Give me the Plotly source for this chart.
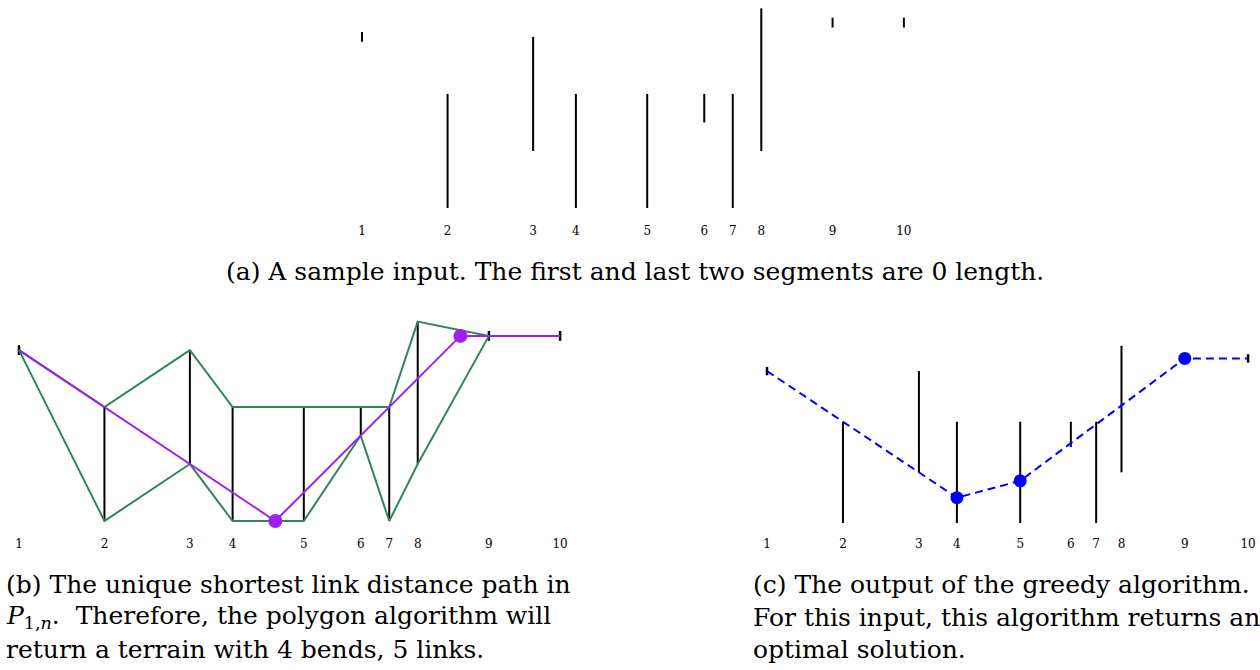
import plotly.graph_objects as go

# ---------------- data ----------------
labels = ["1", "2", "3", "4", "5", "6", "7", "8", "9", "10"]
positions = [0, 6, 12, 15, 20, 24, 26, 28, 33, 38]
seg_low = [12, 0, 4, 0, 0, 6, 0, 4, 13, 13]
seg_high = [12, 8, 12, 8, 8, 8, 8, 14, 13, 13]

path_x = [0, 18, 31, 38]          # shortest link-distance path (b)
path_y = [12, 0, 13, 13]
path_bend_x = [18, 31]
path_bend_y = [0, 13]

greedy_x = [0, 15, 20, 33, 38]    # greedy output (c)
greedy_y = [12, 2, 3.33, 13, 13]
greedy_bend_x = [15, 20, 33]
greedy_bend_y = [2, 3.33, 13]

W, H = 1260, 670
SERIF = "DejaVu Serif, Liberation Serif, serif"
GREEN = "#2e8657"
PURPLE = "#a020f0"
BLUE = "#0000ff"


def px(x):
    return x / W


def py(y):
    return 1 - y / H


def seg_xy(xs, lo, hi):
    X, Y = [], []
    for x, a, b in zip(xs, lo, hi):
        if a != b:
            X += [x, x, None]
            Y += [a, b, None]
    return X, Y


def zero_xy(xs, lo, hi):
    return ([x for x, a, b in zip(xs, lo, hi) if a == b],
            [a for x, a, b in zip(xs, lo, hi) if a == b])


fig = go.Figure()

sx, sy = seg_xy(positions, seg_low, seg_high)
zx, zy = zero_xy(positions, seg_low, seg_high)

# ---------- panel (a) ----------
fig.add_trace(go.Scatter(x=sx, y=sy, mode="lines", line=dict(color="black", width=2),
                         xaxis="x", yaxis="y", hoverinfo="skip"))
fig.add_trace(go.Scatter(x=zx, y=zy, mode="markers",
                         marker=dict(symbol="line-ns", size=7, line=dict(color="black", width=2)),
                         xaxis="x", yaxis="y", hoverinfo="skip"))

# ---------- panel (b) ----------
fig.add_trace(go.Scatter(x=sx, y=sy, mode="lines", line=dict(color="black", width=2),
                         xaxis="x2", yaxis="y2", hoverinfo="skip"))
fig.add_trace(go.Scatter(x=zx, y=zy, mode="markers",
                         marker=dict(symbol="line-ns", size=7, line=dict(color="black", width=2.5)),
                         xaxis="x2", yaxis="y2", hoverinfo="skip"))
fig.add_trace(go.Scatter(x=positions, y=seg_high, mode="lines", line=dict(color=GREEN, width=2),
                         xaxis="x2", yaxis="y2", hoverinfo="skip"))
fig.add_trace(go.Scatter(x=positions, y=seg_low, mode="lines", line=dict(color=GREEN, width=2),
                         xaxis="x2", yaxis="y2", hoverinfo="skip"))
fig.add_trace(go.Scatter(x=path_x, y=path_y, mode="lines", line=dict(color=PURPLE, width=2),
                         xaxis="x2", yaxis="y2", hoverinfo="skip"))
fig.add_trace(go.Scatter(x=path_bend_x, y=path_bend_y, mode="markers",
                         marker=dict(color=PURPLE, size=14),
                         xaxis="x2", yaxis="y2", hoverinfo="skip"))

# ---------- panel (c) ----------
fig.add_trace(go.Scatter(x=sx, y=sy, mode="lines", line=dict(color="black", width=2),
                         xaxis="x3", yaxis="y3", hoverinfo="skip"))
fig.add_trace(go.Scatter(x=zx, y=zy, mode="markers",
                         marker=dict(symbol="line-ns", size=6, line=dict(color="black", width=2.5)),
                         xaxis="x3", yaxis="y3", hoverinfo="skip"))
fig.add_trace(go.Scatter(x=greedy_x, y=greedy_y, mode="lines",
                         line=dict(color=BLUE, width=2, dash="8px,5px"),
                         xaxis="x3", yaxis="y3", hoverinfo="skip"))
fig.add_trace(go.Scatter(x=greedy_bend_x, y=greedy_bend_y, mode="markers",
                         marker=dict(color=BLUE, size=13),
                         xaxis="x3", yaxis="y3", hoverinfo="skip"))


def xax(domain_px, origin, scale):
    lo, hi = domain_px
    return dict(domain=[px(lo), px(hi)],
                range=[(lo - origin) / scale, (hi - origin) / scale],
                tickvals=positions, ticktext=labels, ticks="",
                tickfont=dict(family=SERIF, size=12, color="black"),
                showgrid=False, zeroline=False, showline=False, fixedrange=True)


def yax(domain_px, origin, scale):
    top, bottom = domain_px
    return dict(domain=[py(bottom), py(top)],
                range=[(origin - bottom) / scale, (origin - top) / scale],
                showticklabels=False, ticks="",
                showgrid=False, zeroline=False, showline=False, fixedrange=True)


layout = dict(
    width=W, height=H, margin=dict(l=0, r=0, t=0, b=0),
    paper_bgcolor="white", plot_bgcolor="white", showlegend=False,
    xaxis=xax((340, 930), 362, 14.26), yaxis=yax((0, 222), 208, 14.26),
    xaxis2=dict(xax((0, 580), 19, 14.24), anchor="y2"),
    yaxis2=dict(yax((300, 535), 521, 14.24), anchor="x2"),
    xaxis3=dict(xax((745, 1260), 767, 12.66), anchor="y3"),
    yaxis3=dict(yax((320, 535), 523, 12.66), anchor="x3"),
)
layout["xaxis"]["anchor"] = "y"
layout["yaxis"]["anchor"] = "x"
fig.update_layout(**layout)

CAP = dict(family=SERIF, size=25, color="black")


def cap(text, x, y, anchor="left"):
    fig.add_annotation(text=text, x=px(x), y=py(y), xref="paper", yref="paper",
                       xanchor=anchor, yanchor="middle", showarrow=False, font=CAP)


cap("(a) A sample input. The first and last two segments are 0 length.", 635, 271, "center")
cap("(b) The unique shortest link distance path in", 4, 584)
cap("<i>P</i><sub>1,<i>n</i></sub>.  Therefore, the polygon algorithm will", 4, 617)
cap("return a terrain with 4 bends, 5 links.", 4, 649)
cap("(c) The output of the greedy algorithm.", 751, 584)
cap("For this input, this algorithm returns an", 751, 617)
cap("optimal solution.", 751, 649)

fig.write_html("out.html", config={"displayModeBar": False},
               post_script="document.body.style.margin='0';")
